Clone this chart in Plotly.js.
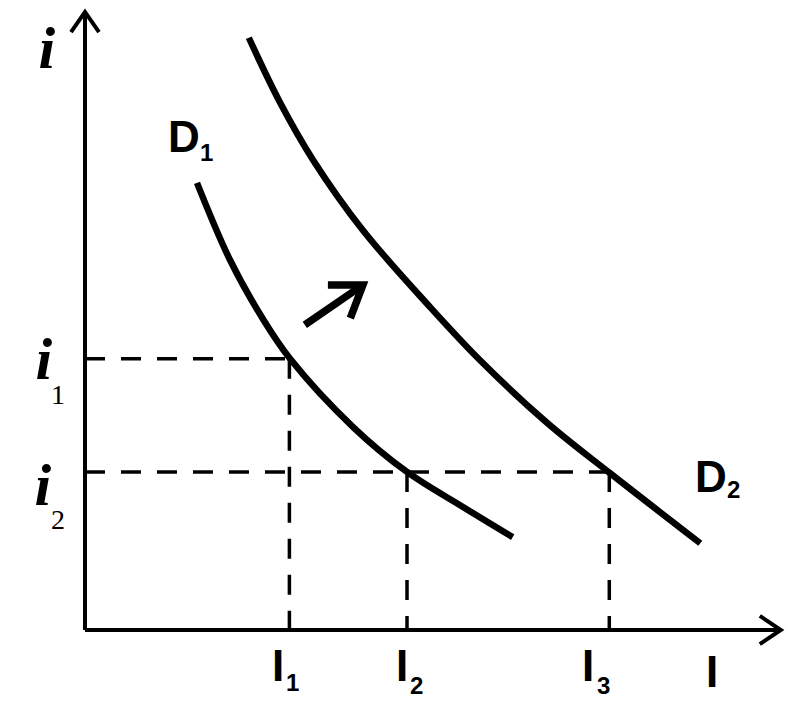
<!DOCTYPE html>
<html>
<head>
<meta charset="utf-8">
<script src="https://cdn.plot.ly/plotly-3.0.1.min.js"></script>
<style>html,body{margin:0;padding:0;background:#fff;}#chart{width:809px;height:714px;}</style>
</head>
<body>
<div id="chart"></div>
<script>
// Demand curve D1 (investment I vs interest rate i)
const d1X = [16.0, 20.7, 25.4, 29.3, 38.3, 46.0, 54.0, 61.1];
const d1Y = [72.7, 60.2, 50.6, 44.1, 33.0, 25.7, 20.0, 15.1];
// Demand curve D2 (shifted right)
const d2X = [23.4, 27.9, 32.6, 39.7, 49.3, 56.4, 66.0, 75.0, 87.9];
const d2Y = [96.3, 85.7, 76.4, 65.0, 52.5, 43.9, 33.7, 25.5, 14.1];
// Reference levels
const iLevels = {i1: 44.1, i2: 25.7};
const ILevels = {I1: 29.2, I2: 46.0, I3: 74.9};
// Shift arrow (tail -> tip)
const shiftX = [31.4, 39.7];
const shiftY = [49.6, 56.1];
// Axis extents
const axisXEnd = 99.4;
const axisYEnd = 100.5;

// Label texts
const mainLabels = ['D', 'D', 'I', 'I', 'I', 'I'];
const mainX = [14.1, 89.4, 27.6, 45.3, 71.9, 89.6];
const mainY = [80.3, 24.9, -5.7, -5.7, -5.7, -6.7];
const subLabels = ['1', '2', '1', '2', '3'];
const subX = [17.4, 92.7, 29.7, 47.3, 74.0];
const subY = [77.7, 22.8, -8.6, -9.1, -9.1];
const iLabelX = [-5.5, -5.8, -6.0];
const iLabelY = [94.6, 44.0, 23.5];
const iSubLabels = ['1', '2'];
const iSubX = [-3.9, -3.9];
const iSubY = [38.3, 18.0];

const black = '#000';
const dash = '20px,16px';
const traces = [];
function line(x, y, w, d, shape) {
  traces.push({x: x, y: y, type: 'scatter', mode: 'lines', hoverinfo: 'skip',
    line: {color: black, width: w, dash: d || 'solid', shape: shape || 'linear', smoothing: 1}});
}
// axes
line([0, 0], [0, axisYEnd], 4);
line([0, axisXEnd], [0, 0], 4);
line([-2, 0, 2], [axisYEnd - 3.3, axisYEnd, axisYEnd - 3.3], 4);
line([axisXEnd - 3, axisXEnd, axisXEnd - 3], [2.3, 0, -2.3], 4);
// dashed guides
line([0, ILevels.I1], [iLevels.i1, iLevels.i1], 3.5, dash);
line([ILevels.I1, ILevels.I1], [iLevels.i1, 0], 3.5, dash);
line([0, ILevels.I3], [iLevels.i2, iLevels.i2], 3.5, dash);
line([ILevels.I2, ILevels.I2], [iLevels.i2, 0], 3.5, dash);
line([ILevels.I3, ILevels.I3], [iLevels.i2, 0], 3.5, dash);
// curves
line(d1X, d1Y, 6.5, 'solid', 'spline');
line(d2X, d2Y, 6.5, 'solid', 'spline');
// shift arrow
line(shiftX, shiftY, 7.5);
line([shiftX[1] - 5.0, shiftX[1], shiftX[1] - 1.8], [shiftY[1], shiftY[1], shiftY[1] - 5.4], 7.5);

const ann = [];
const sansBig = {family: 'Liberation Sans', size: 44, color: black, weight: 'bold'};
const sansSub = {family: 'Liberation Sans', size: 24, color: black, weight: 'bold'};
const serifI = {family: 'Liberation Serif', size: 60, color: black, weight: 'bold', style: 'italic'};
const serifSub = {family: 'Liberation Serif', size: 28, color: black};
mainLabels.forEach((t, k) => ann.push({x: mainX[k], y: mainY[k], text: '<b>' + t + '</b>', showarrow: false, font: sansBig, xanchor: 'center', yanchor: 'middle'}));
subLabels.forEach((t, k) => ann.push({x: subX[k], y: subY[k], text: '<b>' + t + '</b>', showarrow: false, font: sansSub, xanchor: 'center', yanchor: 'middle'}));
iLabelX.forEach((x, k) => ann.push({x: x, y: iLabelY[k], text: '<b><i>i</i></b>', showarrow: false, font: serifI, xanchor: 'center', yanchor: 'middle', height: 44, width: 24}));
iSubLabels.forEach((t, k) => ann.push({x: iSubX[k], y: iSubY[k], text: t, showarrow: false, font: serifSub, xanchor: 'center', yanchor: 'middle', height: 22}));

const layout = {
  width: 809, height: 714,
  margin: {l: 0, r: 0, t: 0, b: 0, pad: 0},
  paper_bgcolor: '#fff', plot_bgcolor: '#fff',
  showlegend: false,
  xaxis: {range: [-85 / 7, (809 - 85) / 7], visible: false, fixedrange: true},
  yaxis: {range: [-(714 - 630) / 6.15, 630 / 6.15], visible: false, fixedrange: true},
  annotations: ann
};
Plotly.newPlot('chart', traces, layout, {displayModeBar: false, staticPlot: true});
</script>
</body>
</html>
